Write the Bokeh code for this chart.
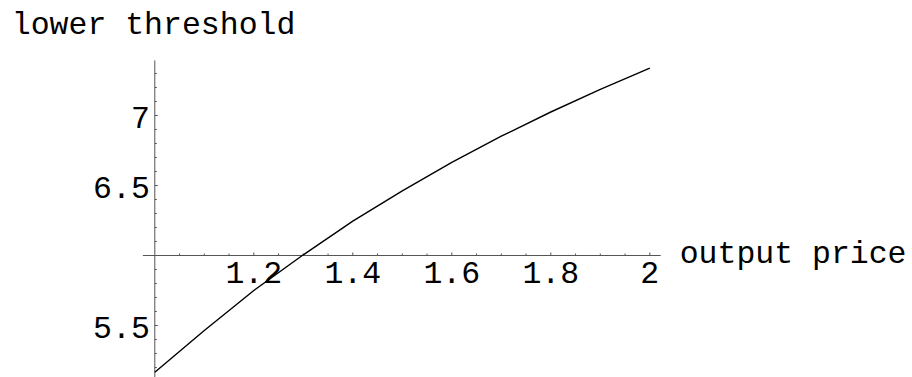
from bokeh.plotting import figure
from bokeh.models import Range1d
from bokeh.core.properties import value
from bokeh.embed import file_html
from bokeh.resources import INLINE

# ---- data ----
price = [1.0, 1.1, 1.2, 1.3, 1.4, 1.5, 1.6, 1.7, 1.8, 1.9, 2.0]
threshold = [5.166, 5.464, 5.750, 6.005, 6.245, 6.462, 6.665, 6.852, 7.025, 7.186, 7.338]

x_major = [1.2, 1.4, 1.6, 1.8, 2.0]
x_major_labels = ["1.2", "1.4", "1.6", "1.8", "2"]
x_minor = [1.05, 1.1, 1.15, 1.25, 1.3, 1.35, 1.45, 1.5, 1.55, 1.65, 1.7, 1.75,
           1.85, 1.9, 1.95]
y_major = [5.5, 6.5, 7.0]
y_major_labels = ["5.5", "6.5", "7"]
y_minor = [5.2, 5.3, 5.4, 5.6, 5.7, 5.8, 5.9, 6.1, 6.2, 6.3, 6.4, 6.6, 6.7, 6.8,
           6.9, 7.1, 7.2, 7.3]
x_title = "output price"
y_title = "lower threshold"

# axes cross at this origin; plot range of the axes
x_origin, y_origin = 1.0, 6.0
x_axis_span = (0.976, 2.022)
y_axis_span = (5.12, 7.393)

# ---- layout ----
W, H = 912, 377
PX_X = 495.0   # pixels per x unit
PX_Y = 140.0   # pixels per y unit
ox_px = 154.3  # figure pixel of x_origin
oy_px = 255.0  # figure pixel (from top) of y_origin

x_start = x_origin - ox_px / PX_X
x_end = x_start + W / PX_X
y_end = y_origin + oy_px / PX_Y
y_start = y_end - H / PX_Y

p = figure(width=W, height=H, output_backend="svg", toolbar_location=None,
           x_axis_type=None, y_axis_type=None,
           x_range=Range1d(x_start, x_end), y_range=Range1d(y_start, y_end),
           min_border=0, outline_line_color=None)
p.background_fill_color = "white"
p.border_fill_color = "white"

AX = "#555555"
FONT = value("Liberation Mono")
FS = "31.5px"

# axis lines
p.segment(x0=[x_axis_span[0]], y0=[y_origin], x1=[x_axis_span[1]], y1=[y_origin],
          line_color=AX, line_width=1)
p.segment(x0=[x_origin], y0=[y_axis_span[0]], x1=[x_origin], y1=[y_axis_span[1]],
          line_color=AX, line_width=1)

# ticks (drawn on the positive side, as in the reference)
maj, mnr = 3.0, 2.0
p.segment(x0=x_major, y0=[y_origin] * len(x_major), x1=x_major,
          y1=[y_origin + maj / PX_Y] * len(x_major), line_color=AX, line_width=1)
p.segment(x0=x_minor, y0=[y_origin] * len(x_minor), x1=x_minor,
          y1=[y_origin + mnr / PX_Y] * len(x_minor), line_color=AX, line_width=1)
p.segment(x0=[x_origin] * len(y_major), y0=y_major,
          x1=[x_origin + maj / PX_X] * len(y_major), y1=y_major, line_color=AX, line_width=1)
p.segment(x0=[x_origin] * len(y_minor), y0=y_minor,
          x1=[x_origin + mnr / PX_X] * len(y_minor), y1=y_minor, line_color=AX, line_width=1)

# curve
p.line(price, threshold, line_color="black", line_width=1.4)

# tick labels
p.text(x=x_major, y=[y_origin] * len(x_major), text=x_major_labels,
       text_align="center", text_baseline="alphabetic", y_offset=17,
       text_font=FONT, text_font_size=FS, text_color="black")
p.text(x=[x_origin] * len(y_major), y=y_major, text=y_major_labels,
       text_align="right", text_baseline="alphabetic", x_offset=-5, y_offset=2,
       text_font=FONT, text_font_size=FS, text_color="black")

# axis titles
p.text(x=[x_axis_span[1]], y=[y_origin], text=[x_title],
       text_align="left", text_baseline="alphabetic", x_offset=19, y_offset=-1,
       text_font=FONT, text_font_size=FS, text_color="black")
p.text(x=[x_origin], y=[y_axis_span[1]], text=[y_title],
       text_align="left", text_baseline="alphabetic", x_offset=-143, y_offset=-35,
       text_font=FONT, text_font_size=FS, text_color="black")

open("out.html", "w").write(file_html(p, INLINE))
